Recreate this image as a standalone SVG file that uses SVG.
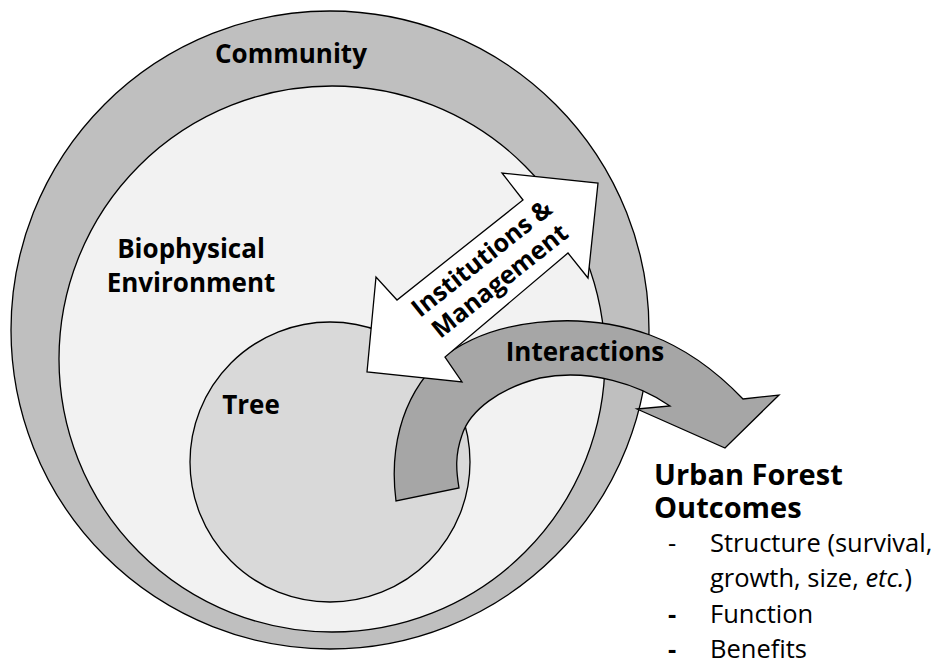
<svg xmlns="http://www.w3.org/2000/svg" width="939" height="670" viewBox="0 0 939 670">
  <style>
    .ring { stroke: #000; stroke-width: 1.3; }
    .lbl { font-family: "Open Sans", "Liberation Sans", sans-serif; font-weight: bold; fill: #000; }
    .item { font-family: "Open Sans", "Liberation Sans", sans-serif; font-size: 25.5px; fill: #000; }
    .arrow { stroke: #000; stroke-width: 1.3; stroke-linejoin: miter; }
  </style>
  <rect width="939" height="670" fill="#ffffff"/>
  <g id="community">
    <circle class="ring" cx="330" cy="330" r="319" fill="#bfbfbf"/>
    <text class="lbl" x="291" y="63" font-size="26" text-anchor="middle">Community</text>
  </g>
  <g id="biophysical">
    <circle class="ring" cx="332" cy="359" r="273" fill="#f2f2f2"/>
    <text class="lbl" x="191" y="258" font-size="26" text-anchor="middle">Biophysical</text>
    <text class="lbl" x="191" y="292" font-size="26" text-anchor="middle">Environment</text>
  </g>
  <g id="tree">
    <circle class="ring" cx="330" cy="462" r="140" fill="#d9d9d9"/>
    <text class="lbl" x="251" y="414" font-size="26" text-anchor="middle">Tree</text>
  </g>
  <g id="connectors">
    <g id="interactions">
      <path class="arrow" fill="#a6a6a6" d="M396,501 C390,455 398,400 440,360 C490,318 580,310 650,335 C690,350 720,375 743,399 L779,395 L725,448 L637,409 L670,406 C640,385 590,368 540,378 C500,388 470,410 462,435 C455,455 456,470 459,488 Z"/>
      <text class="lbl" x="585" y="361" font-size="26" text-anchor="middle">Interactions</text>
    </g>
    <g id="institutions">
      <polygon class="arrow" fill="#ffffff" points="367,372 376,277 397,300 523,200 502,173 598,183 588,278 568,253 445,357 462,382"/>
      <g transform="translate(487,265) rotate(-38.5)">
        <text class="lbl" x="0" y="0" font-size="25" text-anchor="middle">Institutions &amp;</text>
        <text class="lbl" x="0" y="29" font-size="25" text-anchor="middle">Management</text>
      </g>
    </g>
  </g>
  <g id="outcomes">
    <text class="lbl" font-size="29"><tspan x="654" y="485">Urban Forest</tspan><tspan x="654" y="518">Outcomes</tspan></text>
    <text class="item" x="668" y="552">-</text>
    <text class="item" x="710" y="552">Structure (survival,</text>
    <text class="item" x="710" y="587">growth, size, <tspan font-style="italic">etc.</tspan>)</text>
    <text class="item" x="668" y="623" font-weight="bold">-</text>
    <text class="item" x="710" y="623">Function</text>
    <text class="item" x="668" y="658" font-weight="bold">-</text>
    <text class="item" x="710" y="658">Benefits</text>
  </g>
</svg>
